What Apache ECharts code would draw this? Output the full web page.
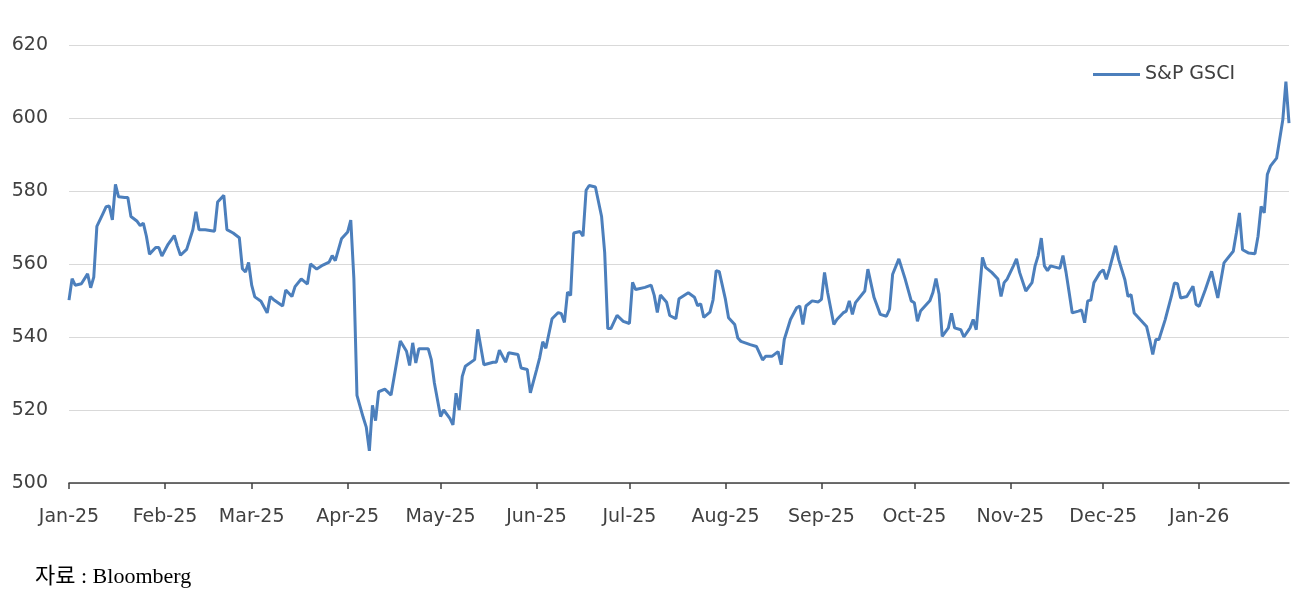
<!DOCTYPE html>
<html>
<head>
<meta charset="utf-8">
<script src="https://cdn.jsdelivr.net/npm/echarts@6/dist/echarts.min.js"></script>
<style>
html,body{margin:0;padding:0;background:#fff;}
#chart{width:1316px;height:599px;}
</style>
</head>
<body>
<div id="chart"></div>
<script>
const seriesName = 'S&P GSCI';
const sourceText = '자료 : Bloomberg';
const startDate = '2025-01-01';
const endDate = '2026-01-30';
const monthNames = ['Jan','Feb','Mar','Apr','May','Jun','Jul','Aug','Sep','Oct','Nov','Dec'];
const yMin = 500, yMax = 620, yStep = 20;

const dates = [
'2025-01-01','2025-01-02','2025-01-03','2025-01-05','2025-01-07','2025-01-08','2025-01-09','2025-01-10','2025-01-12','2025-01-13',
'2025-01-14','2025-01-15','2025-01-16','2025-01-17','2025-01-19','2025-01-20','2025-01-21','2025-01-23','2025-01-24','2025-01-25',
'2025-01-26','2025-01-27','2025-01-29','2025-01-30','2025-01-31','2025-02-02','2025-02-04','2025-02-05','2025-02-06','2025-02-08',
'2025-02-10','2025-02-11','2025-02-12','2025-02-14','2025-02-17','2025-02-18','2025-02-20','2025-02-21','2025-02-23','2025-02-25',
'2025-02-26','2025-02-27','2025-02-28','2025-03-01','2025-03-02','2025-03-04','2025-03-06','2025-03-07','2025-03-08','2025-03-11',
'2025-03-12','2025-03-14','2025-03-15','2025-03-17','2025-03-19','2025-03-20','2025-03-22','2025-03-24','2025-03-26','2025-03-27',
'2025-03-28','2025-03-30','2025-04-01','2025-04-02','2025-04-03','2025-04-04','2025-04-06','2025-04-07','2025-04-08','2025-04-09',
'2025-04-10','2025-04-11','2025-04-13','2025-04-15','2025-04-18','2025-04-20','2025-04-21','2025-04-22','2025-04-23','2025-04-24',
'2025-04-27','2025-04-28','2025-04-29','2025-05-01','2025-05-02','2025-05-04','2025-05-05','2025-05-06','2025-05-07','2025-05-08',
'2025-05-09','2025-05-12','2025-05-13','2025-05-15','2025-05-18','2025-05-19','2025-05-20','2025-05-22','2025-05-23','2025-05-26',
'2025-05-27','2025-05-29','2025-05-30','2025-06-01','2025-06-02','2025-06-03','2025-06-04','2025-06-06','2025-06-08','2025-06-09',
'2025-06-10','2025-06-11','2025-06-12','2025-06-13','2025-06-15','2025-06-16','2025-06-17','2025-06-18','2025-06-20','2025-06-22',
'2025-06-23','2025-06-24','2025-06-25','2025-06-27','2025-06-29','2025-07-01','2025-07-02','2025-07-03','2025-07-06','2025-07-08',
'2025-07-09','2025-07-10','2025-07-11','2025-07-13','2025-07-14','2025-07-16','2025-07-17','2025-07-20','2025-07-22','2025-07-23',
'2025-07-24','2025-07-25','2025-07-27','2025-07-28','2025-07-29','2025-07-30','2025-08-01','2025-08-02','2025-08-04','2025-08-05',
'2025-08-06','2025-08-09','2025-08-11','2025-08-13','2025-08-14','2025-08-16','2025-08-18','2025-08-19','2025-08-20','2025-08-22',
'2025-08-24','2025-08-25','2025-08-26','2025-08-27','2025-08-29','2025-08-31','2025-09-01','2025-09-02','2025-09-03','2025-09-05',
'2025-09-06','2025-09-08','2025-09-09','2025-09-10','2025-09-11','2025-09-12','2025-09-15','2025-09-16','2025-09-18','2025-09-20',
'2025-09-22','2025-09-23','2025-09-24','2025-09-26','2025-09-28','2025-09-30','2025-10-01','2025-10-02','2025-10-03','2025-10-06',
'2025-10-07','2025-10-08','2025-10-09','2025-10-10','2025-10-12','2025-10-13','2025-10-14','2025-10-16','2025-10-17','2025-10-19',
'2025-10-20','2025-10-21','2025-10-23','2025-10-24','2025-10-26','2025-10-28','2025-10-29','2025-10-30','2025-10-31','2025-11-02',
'2025-11-03','2025-11-04','2025-11-06','2025-11-08','2025-11-09','2025-11-10','2025-11-11','2025-11-12','2025-11-13','2025-11-14',
'2025-11-17','2025-11-18','2025-11-19','2025-11-20','2025-11-21','2025-11-23','2025-11-24','2025-11-25','2025-11-26','2025-11-27',
'2025-11-28','2025-11-30','2025-12-01','2025-12-02','2025-12-03','2025-12-05','2025-12-06','2025-12-08','2025-12-09','2025-12-10',
'2025-12-11','2025-12-13','2025-12-15','2025-12-16','2025-12-17','2025-12-18','2025-12-19','2025-12-21','2025-12-23','2025-12-24',
'2025-12-25','2025-12-26','2025-12-28','2025-12-30','2025-12-31','2026-01-01','2026-01-03','2026-01-05','2026-01-07','2026-01-09',
'2026-01-12','2026-01-13','2026-01-14','2026-01-15','2026-01-17','2026-01-19','2026-01-20','2026-01-21','2026-01-22','2026-01-23',
'2026-01-24','2026-01-26','2026-01-28','2026-01-29','2026-01-30'
];
const values = [
550.1,556,554.2,554.6,557.3,553.5,556.4,570.3,573.9,575.7,
575.9,572.1,581.8,578.4,578.2,578.2,573,571.7,570.5,571.2,
567.6,562.7,564.5,564.5,562.2,565.4,567.8,564.9,562.4,564,
569.4,574.3,569.4,569.4,569,577,578.8,569.4,568.5,567.2,
558.7,557.8,560.4,554.2,551,549.8,546.6,551.1,550.3,548.5,
552.9,551.1,553.8,555.9,554.5,560,558.6,559.7,560.5,562.3,
560.9,566.9,568.8,572,556,524,518,515.3,508.8,521.3,
517.1,525,525.7,524.1,538.9,536.1,532.2,538.4,532.9,536.8,
536.8,533.8,527.4,518.2,520,517.7,515.9,524.6,520,529.2,
532,533.8,542.1,532.4,533.1,533.1,536.4,533.1,535.7,535.2,
531.5,531.1,524.7,531,534.3,538.7,536.9,545,546.7,546.4,
544,552.3,551.4,568.5,568.9,567.6,580.2,581.5,581.1,573,
563.1,542.3,542.3,545.9,544.3,543.7,555,553,553.6,554.2,
551.4,546.7,551.5,549.5,545.9,545,550.5,552.1,550.9,548.6,
549.1,545.4,546.8,550.2,558.2,557.9,550.3,545.3,543.4,539.7,
538.8,537.9,537.4,533.7,534.7,534.7,536,532.4,539.3,544.8,
548,548.5,543.4,548.5,549.9,549.6,550.3,557.7,552.2,543.4,
544.8,546.6,547.1,549.9,546.2,549.4,552.6,558.6,550.8,546.2,
545.7,547.6,557.2,561.4,556,549.9,549.4,544.3,547.1,549.9,
552.2,556,551.7,540.2,542.5,546.5,542.5,542,540,542.5,
544.8,542,561.8,559.1,557.7,555.9,551.1,554.9,555.9,559.5,
561.4,557.7,552.6,554.9,559.5,562.3,567.1,559.5,558.2,559.5,
558.8,562.3,557.7,552.2,546.6,547.1,547.4,543.9,549.9,550.1,
554.9,557.7,558.4,555.8,558.6,565,561.2,555.7,551.1,551.6,
546.6,544.7,542.9,539.3,535.2,539.3,539.3,544.7,551.1,554.8,
554.6,550.7,551.1,553.9,548.9,548.4,553,558,550.7,560.3,
563.5,568.5,574,563.9,563,562.8,567.6,575.8,574,584.5,
586.8,589,599.5,610,598.6
];

// Build daily category list (calendar days) so month ticks land at true positions
function ymd(d){
  const m = d.getUTCMonth()+1, day = d.getUTCDate();
  return d.getUTCFullYear() + '-' + (m<10?'0':'') + m + '-' + (day<10?'0':'') + day;
}
const categories = [];
for (let t = Date.parse(startDate + 'T00:00:00Z'); t <= Date.parse(endDate + 'T00:00:00Z'); t += 86400000) {
  categories.push(ymd(new Date(t)));
}
const lookup = {};
dates.forEach((d, i) => { lookup[d] = values[i]; });
const seriesData = categories.map(c => (c in lookup ? lookup[c] : null));

const isMonthStart = (idx, val) => val.slice(8) === '01';
const monthLabel = val => monthNames[parseInt(val.slice(5,7),10)-1] + '-' + val.slice(2,4);

const FONT = 'DejaVu Sans';
const LINE_COLOR = '#4C7FBC';
const chart = echarts.init(document.getElementById('chart'), null, {renderer: 'canvas'});
chart.setOption({
  animation: false,
  backgroundColor: '#ffffff',
  grid: {left: 69, right: 27, top: 45, bottom: 116, containLabel: false},
  legend: {
    data: [{name: seriesName, icon: 'rect'}],
    left: 1093, top: 65, padding: 0,
    itemWidth: 47, itemHeight: 3,
    itemStyle: {color: LINE_COLOR},
    textStyle: {fontFamily: FONT, fontSize: 19, color: '#404040'}
  },
  xAxis: {
    type: 'category',
    data: categories,
    boundaryGap: false,
    axisLine: {lineStyle: {color: '#404040', width: 1.5}},
    axisTick: {show: true, interval: isMonthStart, length: 6, lineStyle: {color: '#404040', width: 1.5}},
    axisLabel: {interval: isMonthStart, formatter: monthLabel, margin: 25,
      fontFamily: FONT, fontSize: 19, color: '#404040'},
    splitLine: {show: false}
  },
  yAxis: {
    type: 'value',
    min: yMin, max: yMax, interval: yStep,
    axisLine: {show: false},
    axisTick: {show: false},
    axisLabel: {margin: 21, fontFamily: FONT, fontSize: 19, color: '#404040'},
    splitLine: {lineStyle: {color: '#d9d9d9', width: 1}}
  },
  graphic: [{
    type: 'text', left: 35, top: 566,
    style: {text: sourceText, font: '22px "Liberation Serif", "Noto Sans CJK KR"', fill: '#000'}
  }],
  series: [{
    name: seriesName,
    type: 'line',
    data: seriesData,
    connectNulls: true,
    symbol: 'none',
    smooth: false,
    lineStyle: {color: LINE_COLOR, width: 3},
    itemStyle: {color: LINE_COLOR}
  }]
});
</script>
</body>
</html>
